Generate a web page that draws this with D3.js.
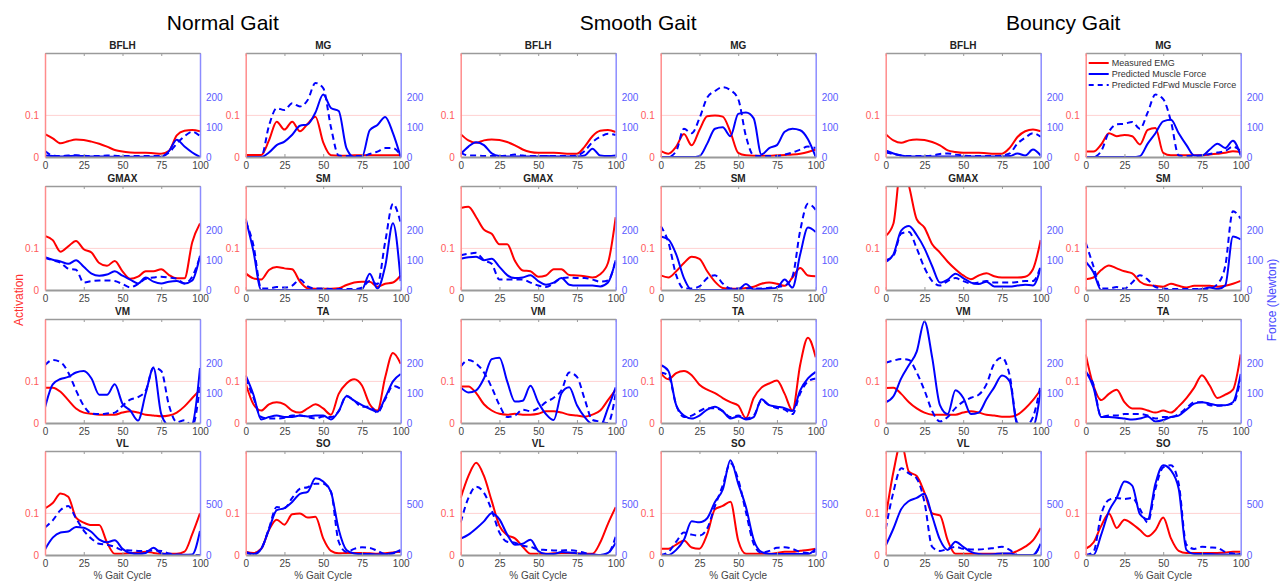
<!DOCTYPE html>
<html>
<head>
<meta charset="utf-8">
<script src="https://cdn.jsdelivr.net/npm/d3@7"></script>
<style>
  body { margin: 0; background: #fff; }
  text { font-family: "Liberation Sans", Arial, sans-serif; }
</style>
</head>
<body>
<svg id="chart" width="1288" height="582"></svg>
<script>
// % gait cycle sample points
var pct = [0,5,10,15,20,25,30,35,40,45,50,55,60,65,70,75,80,85,90,95,100];
var muscles = ['BFLH','MG','GMAX','SM','VM','TA','VL','SO'];
var gaits = ['Normal Gait','Smooth Gait','Bouncy Gait'];
var xTicks = [0,25,50,75,100];
var actTicks = [0,0.1];
var forceTicks = [0,100,200];
var forceTicksBig = [0,500];
var legendLabels = ['Measured EMG','Predicted Muscle Force','Predicted FdFwd Muscle Force'];

// activation (measured EMG), muscle order as above
var normalEMG = [
  [0.055,0.045,0.033,0.038,0.042,0.041,0.037,0.032,0.025,0.017,0.013,0.011,0.010,0.010,0.009,0.008,0.015,0.052,0.063,0.065,0.062],
  [0.005,0.005,0.005,0.04,0.085,0.066,0.085,0.062,0.08,0.097,0.035,0.004,0.003,0.003,0.004,0.004,0.004,0.004,0.004,0.004,0.004],
  [0.13,0.12,0.092,0.105,0.118,0.098,0.09,0.065,0.058,0.07,0.045,0.027,0.032,0.045,0.045,0.05,0.036,0.028,0.028,0.115,0.16],
  [0.04,0.028,0.025,0.048,0.055,0.052,0.05,0.02,0.004,0.003,0.003,0.003,0.004,0.012,0.018,0.02,0.02,0.008,0.015,0.018,0.035],
  [0.085,0.085,0.075,0.055,0.035,0.025,0.022,0.02,0.02,0.02,0.025,0.028,0.025,0.02,0.018,0.016,0.018,0.025,0.04,0.06,0.08],
  [0.095,0.045,0.03,0.045,0.05,0.045,0.03,0.025,0.035,0.045,0.035,0.02,0.07,0.095,0.105,0.09,0.045,0.03,0.11,0.168,0.142],
  [0.112,0.125,0.148,0.14,0.09,0.078,0.072,0.072,0.03,0.003,0.003,0.004,0.006,0.008,0.005,0.003,0.003,0.003,0.008,0.05,0.1],
  [0.008,0.005,0.015,0.06,0.085,0.073,0.098,0.1,0.09,0.092,0.04,0.01,0.004,0.005,0.005,0.005,0.004,0.003,0.004,0.006,0.008]
];
var smoothEMG = [
  [0.055,0.04,0.034,0.04,0.042,0.041,0.036,0.028,0.018,0.012,0.01,0.01,0.01,0.009,0.008,0.008,0.025,0.05,0.063,0.065,0.06],
  [0.015,0.008,0.025,0.055,0.028,0.065,0.098,0.1,0.097,0.06,0.01,0.004,0.003,0.003,0.003,0.004,0.005,0.006,0.008,0.012,0.018],
  [0.197,0.2,0.175,0.145,0.135,0.11,0.11,0.07,0.047,0.045,0.032,0.035,0.05,0.05,0.036,0.035,0.033,0.03,0.038,0.065,0.175],
  [0.035,0.03,0.045,0.065,0.08,0.075,0.045,0.02,0.005,0.003,0.003,0.005,0.008,0.015,0.018,0.015,0.01,0.03,0.053,0.035,0.033],
  [0.088,0.088,0.072,0.045,0.03,0.022,0.02,0.022,0.02,0.02,0.022,0.028,0.028,0.025,0.02,0.018,0.015,0.02,0.03,0.055,0.08],
  [0.12,0.105,0.12,0.125,0.115,0.092,0.08,0.072,0.06,0.05,0.042,0.012,0.06,0.085,0.095,0.102,0.07,0.03,0.14,0.205,0.158],
  [0.137,0.19,0.222,0.19,0.13,0.07,0.048,0.04,0.02,0.003,0.003,0.003,0.004,0.005,0.005,0.004,0.003,0.003,0.03,0.075,0.115],
  [0.015,0.015,0.025,0.035,0.018,0.015,0.05,0.11,0.118,0.128,0.035,0.003,0.003,0.003,0.003,0.005,0.008,0.008,0.01,0.012,0.015]
];
var bouncyEMG = [
  [0.055,0.04,0.034,0.04,0.042,0.041,0.036,0.028,0.016,0.012,0.01,0.01,0.01,0.009,0.008,0.008,0.022,0.048,0.062,0.066,0.062],
  [0.013,0.013,0.03,0.057,0.05,0.053,0.05,0.03,0.065,0.07,0.01,0.004,0.004,0.004,0.004,0.004,0.006,0.008,0.01,0.014,0.012],
  [0.13,0.16,0.3,0.25,0.17,0.15,0.11,0.09,0.068,0.05,0.035,0.026,0.035,0.04,0.033,0.03,0.03,0.03,0.032,0.05,0.12],
  [0.026,0.03,0.048,0.059,0.052,0.045,0.04,0.02,0.012,0.01,0.008,0.015,0.01,0.006,0.01,0.01,0.01,0.008,0.01,0.015,0.022],
  [0.084,0.085,0.07,0.05,0.035,0.025,0.02,0.02,0.02,0.02,0.025,0.028,0.025,0.02,0.018,0.015,0.015,0.02,0.035,0.055,0.08],
  [0.165,0.09,0.055,0.07,0.08,0.05,0.035,0.035,0.03,0.025,0.03,0.025,0.04,0.06,0.085,0.115,0.09,0.06,0.068,0.08,0.165],
  [0.09,0.2,0.27,0.2,0.19,0.15,0.1,0.095,0.035,0.003,0.003,0.003,0.003,0.003,0.003,0.003,0.003,0.01,0.02,0.035,0.065],
  [0.015,0.03,0.07,0.1,0.065,0.085,0.075,0.06,0.045,0.06,0.09,0.04,0.01,0.005,0.005,0.005,0.005,0.005,0.006,0.008,0.008]
];

// predicted muscle force (N)
var normalForce = [
  [5,3,2,3,4,3,2,2,1,1,1,1,1,1,1,1,20,58,35,15,0],
  [0,0,0,15,40,52,75,105,110,150,210,165,155,30,0,0,90,108,135,80,0],
  [110,102,96,88,100,78,55,48,52,63,48,35,22,42,28,22,28,30,22,32,115],
  [240,130,0,0,0,0,0,0,0,0,0,0,0,0,0,2,55,5,80,225,30],
  [52,130,148,155,170,175,150,95,95,130,65,42,8,100,185,30,-10,-15,-20,-5,185],
  [160,95,12,20,25,20,20,25,22,25,25,12,40,90,75,60,48,38,85,140,165],
  [55,170,220,230,275,268,225,150,125,145,60,20,12,20,72,15,5,3,3,5,235],
  [30,10,60,250,440,460,520,600,620,752,720,620,250,50,15,10,10,5,8,20,50]
];
var smoothForce = [
  [10,35,50,40,12,3,2,2,2,2,2,3,2,2,2,2,5,28,5,3,5],
  [0,0,0,0,0,3,45,95,100,70,145,150,130,8,30,40,85,95,90,60,0],
  [105,110,112,100,105,78,50,40,42,50,30,18,25,40,18,15,15,15,12,25,100],
  [180,170,120,40,0,0,0,0,0,2,2,20,2,3,5,8,35,8,120,210,195],
  [120,103,110,150,215,220,140,72,75,125,70,30,10,100,120,60,20,-5,-10,50,120],
  [195,175,60,25,15,25,45,55,40,15,22,12,20,80,60,55,50,40,110,150,172],
  [160,200,260,330,410,350,200,100,110,150,40,10,10,30,25,15,5,3,0,20,120],
  [0,0,50,150,330,320,360,520,640,930,700,470,150,30,10,10,10,10,10,10,60]
];
var bouncyForce = [
  [22,12,5,2,2,2,2,2,2,2,2,2,2,2,2,2,3,12,5,25,5],
  [0,0,0,0,0,0,0,3,45,80,120,125,80,40,5,5,25,45,30,55,5],
  [95,120,200,215,185,140,80,25,35,55,40,25,20,28,12,12,12,15,18,15,75],
  [95,60,0,0,0,0,0,0,0,0,0,0,0,0,0,3,8,3,15,180,170],
  [70,90,150,195,240,342,220,60,30,110,85,30,35,80,120,160,140,-5,-5,-10,110],
  [175,120,20,20,18,15,12,15,22,5,10,20,25,45,65,70,65,60,60,70,165],
  [92,260,450,530,560,600,380,150,50,130,80,30,10,5,8,15,15,0,0,0,110],
  [0,0,200,430,560,720,680,400,350,700,880,830,650,50,10,10,10,5,5,5,10]
];

// predicted FdFwd muscle force (N)
var normalFdFwd = [
  [20,5,3,5,6,4,3,3,5,4,3,3,3,3,3,3,15,45,70,85,70],
  [0,0,0,105,164,158,181,170,192,249,232,100,5,3,3,3,10,18,30,30,5],
  [108,100,92,72,68,25,30,32,32,30,20,9,20,38,42,45,42,38,22,45,112],
  [230,150,5,5,10,8,15,35,12,5,5,3,3,3,3,8,30,20,162,290,225],
  [195,212,205,170,110,58,32,30,32,35,58,79,87,109,187,175,59,3,9,-10,125],
  [150,85,20,15,15,18,25,25,20,15,22,20,40,92,75,55,55,35,80,125,115],
  [270,340,440,480,360,240,160,110,100,80,48,45,40,38,45,40,15,5,0,0,0],
  [25,5,60,260,470,460,560,650,665,700,700,620,130,30,60,75,70,40,10,15,40]
];
var smoothFdFwd = [
  [15,5,5,3,3,3,5,8,5,3,3,3,3,3,3,5,20,50,68,78,74],
  [0,0,20,95,80,130,200,222,235,225,195,70,5,3,3,3,8,15,25,35,30],
  [117,122,125,100,88,35,35,35,35,25,15,10,22,40,42,40,40,35,28,32,100],
  [215,160,50,5,5,12,40,50,22,5,5,5,5,5,8,10,15,45,200,290,270],
  [190,212,200,170,120,60,20,25,45,40,50,70,85,110,170,155,80,10,5,0,100],
  [170,160,60,20,25,40,50,50,40,20,25,15,25,75,60,50,45,30,100,140,150],
  [320,560,670,610,440,220,130,120,90,80,55,50,45,45,48,40,20,5,0,15,180],
  [0,30,130,220,200,190,260,480,680,900,740,420,110,20,40,70,75,60,30,20,40]
];
var bouncyFdFwd = [
  [15,10,5,3,3,3,5,10,12,8,5,3,3,3,3,5,12,45,65,80,68],
  [0,0,20,85,110,112,118,95,150,210,195,120,5,3,3,5,10,15,20,35,20],
  [100,115,190,195,140,75,30,15,30,40,30,22,25,30,25,25,25,27,30,30,80],
  [160,80,5,5,10,5,25,50,35,10,5,3,3,3,3,3,5,20,80,265,240],
  [203,210,215,212,170,110,40,5,20,50,72,85,95,130,200,220,160,0,-10,20,130],
  [170,130,20,25,25,30,30,30,25,15,20,20,30,50,70,70,60,58,60,65,150],
  [255,620,850,800,750,520,80,40,60,80,60,55,55,60,70,80,50,0,0,0,100],
  [0,30,400,540,560,550,560,450,320,650,860,880,700,100,60,80,75,70,30,15,10]
];

var emgAll = [normalEMG, smoothEMG, bouncyEMG];
var forceAll = [normalForce, smoothForce, bouncyForce];
var fdfwdAll = [normalFdFwd, smoothFdFwd, bouncyFdFwd];

// layout
var svg = d3.select('#chart');
var colLeft = [45, 245.7, 460.7, 660.7, 885.7, 1085.7];
var rowTop = [53, 186, 319, 451];
var pw = 155, ph = 104;

var RED = '#ff0000', BLUE = '#0000ff';

var x = d3.scaleLinear().domain([0, 100]).range([0, pw]);
var yL = d3.scaleLinear().domain([0, 0.25]).range([ph, 0]);
var yR = d3.scaleLinear().domain([0, 350]).range([ph, 0]);
var yRBig = d3.scaleLinear().domain([0, 1020]).range([ph, 0]);

// group titles
gaits.forEach(function(g, gi) {
    var cx = (colLeft[gi * 2] + colLeft[gi * 2 + 1] + pw) / 2;
    svg.append('text')
        .attr('x', cx).attr('y', 30)
        .attr('text-anchor', 'middle')
        .style('font-size', '21px')
        .attr('fill', '#000')
        .text(g);
});

var pid = 0;
gaits.forEach(function(g, gi) {
    for (var r = 0; r < 4; r++) {
        for (var c = 0; c < 2; c++) {
            var m = r * 2 + c;
            var px = colLeft[gi * 2 + c], py = rowTop[r];
            var yr = r == 3 ? yRBig : yR;
            var panel = svg.append('g').attr('transform', 'translate(' + px + ',' + py + ')');

            var clipId = 'clip' + (pid++);
            panel.append('clipPath').attr('id', clipId)
                .append('rect').attr('width', pw).attr('height', ph);

            // 0.1 reference line
            panel.append('line')
                .attr('x1', 0).attr('x2', pw)
                .attr('y1', yL(0.1)).attr('y2', yL(0.1))
                .attr('stroke', '#ffd2d2').attr('stroke-width', 1);

            var lineL = d3.line()
                .x(function(d, i) { return x(pct[i]); })
                .y(function(d) { return yL(d); })
                .curve(d3.curveMonotoneX);
            var lineR = d3.line()
                .x(function(d, i) { return x(pct[i]); })
                .y(function(d) { return yr(d); })
                .curve(d3.curveMonotoneX);

            var lines = panel.append('g').attr('clip-path', 'url(#' + clipId + ')');
            lines.append('path').datum(emgAll[gi][m])
                .attr('d', lineL).attr('fill', 'none')
                .attr('stroke', RED).attr('stroke-width', 2);
            lines.append('path').datum(forceAll[gi][m])
                .attr('d', lineR).attr('fill', 'none')
                .attr('stroke', BLUE).attr('stroke-width', 2);
            lines.append('path').datum(fdfwdAll[gi][m])
                .attr('d', lineR).attr('fill', 'none')
                .attr('stroke', BLUE).attr('stroke-width', 2)
                .attr('stroke-dasharray', '6,4');

            // top axis (ticks only)
            var top = panel.append('g')
                .call(d3.axisTop(x).tickValues(xTicks).tickSizeInner(-3).tickSizeOuter(0).tickFormat(''));
            top.select('.domain').attr('stroke', '#9a9a9a').attr('stroke-width', 1.5);
            top.selectAll('.tick line').attr('stroke', '#9a9a9a');

            // bottom axis
            var bot = panel.append('g').attr('transform', 'translate(0,' + ph + ')')
                .call(d3.axisBottom(x).tickValues(xTicks).tickSizeInner(-3).tickSizeOuter(0).tickPadding(5));
            bot.select('.domain').attr('stroke', '#9a9a9a').attr('stroke-width', 2);
            bot.selectAll('.tick line').attr('stroke', '#9a9a9a');
            bot.selectAll('.tick text').attr('fill', '#444')
                .style('font-size', '10px').style('font-family', '"Liberation Sans", Arial, sans-serif');

            // left axis (activation)
            var la = panel.append('g')
                .call(d3.axisLeft(yL).tickValues(actTicks).tickSize(0).tickPadding(6)
                    .tickFormat(function(d) { return d === 0 ? '0' : '0.1'; }));
            la.select('.domain').attr('stroke', '#ff8c8c').attr('stroke-width', 1.5);
            la.selectAll('.tick text').attr('fill', '#ff5a5a')
                .style('font-size', '10px').style('font-family', '"Liberation Sans", Arial, sans-serif');

            // right axis (force)
            var ra = panel.append('g').attr('transform', 'translate(' + pw + ',0)')
                .call(d3.axisRight(yr).tickValues(r == 3 ? forceTicksBig : forceTicks).tickSize(0).tickPadding(6));
            ra.select('.domain').attr('stroke', '#8c8cff').attr('stroke-width', 1.5);
            ra.selectAll('.tick text').attr('fill', '#5a5aff')
                .style('font-size', '10px').style('font-family', '"Liberation Sans", Arial, sans-serif');

            // muscle title
            panel.append('text')
                .attr('x', pw / 2).attr('y', -4)
                .attr('text-anchor', 'middle')
                .style('font-size', '10px').style('font-weight', 'bold')
                .attr('fill', '#222')
                .text(muscles[m]);

            if (r == 3) {
                panel.append('text')
                    .attr('x', pw / 2).attr('y', ph + 24)
                    .attr('text-anchor', 'middle')
                    .style('font-size', '10px')
                    .attr('fill', '#444')
                    .text('% Gait Cycle');
            }

            // legend in bouncy MG
            if (gi == 2 && m == 1) {
                var lg = panel.append('g').attr('transform', 'translate(3,10)');
                legendLabels.forEach(function(lab, li) {
                    var ly = li * 11;
                    lg.append('line')
                        .attr('x1', 0).attr('x2', 20).attr('y1', ly).attr('y2', ly)
                        .attr('stroke', li == 0 ? RED : BLUE).attr('stroke-width', 2)
                        .attr('stroke-dasharray', li == 2 ? '5,4' : null);
                    lg.append('text')
                        .attr('x', 23).attr('y', ly + 3)
                        .style('font-size', '9px')
                        .attr('fill', '#333')
                        .text(lab);
                });
            }
        }
    }
});

// axis labels
svg.append('text')
    .attr('transform', 'translate(23,300) rotate(-90)')
    .attr('text-anchor', 'middle')
    .style('font-size', '12px')
    .attr('fill', '#ff3030')
    .text('Activation');

svg.append('text')
    .attr('transform', 'translate(1276,300) rotate(-90)')
    .attr('text-anchor', 'middle')
    .style('font-size', '12px')
    .attr('fill', '#4a4aff')
    .text('Force (Newton)');
</script>
</body>
</html>
